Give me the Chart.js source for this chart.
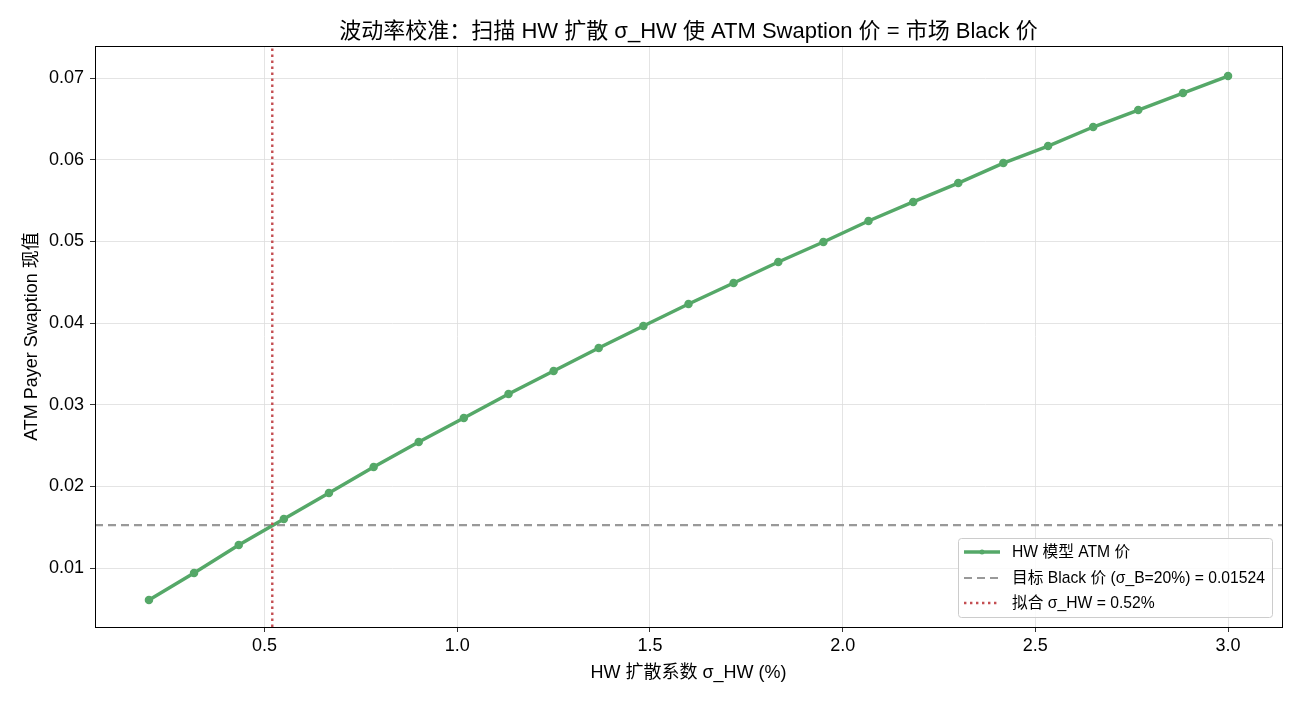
<!DOCTYPE html>
<html lang="zh">
<head>
<meta charset="UTF-8">
<title>波动率校准</title>
<script src="https://cdn.jsdelivr.net/npm/chart.js"></script>
<style>
    html, body { margin: 0; padding: 0; background: #fff; }
    #wrap { width: 1300px; height: 702px; }
</style>
</head>
<body>
<div id="wrap"><canvas id="calib" width="1300" height="702"></canvas></div>
<script>
    const FONT = "'Liberation Sans', Arial, 'Noto Sans CJK SC', sans-serif";

    // sigma_HW grid (%) and model ATM payer swaption price
    const sigmaHW = [0.2, 0.317, 0.433, 0.55, 0.667, 0.783, 0.9, 1.017, 1.133, 1.25,
                     1.367, 1.483, 1.6, 1.717, 1.833, 1.95, 2.067, 2.183, 2.3, 2.417,
                     2.533, 2.65, 2.767, 2.883, 3.0];
    const hwPrice = [0.00608, 0.00939, 0.01282, 0.0160, 0.01918, 0.02237, 0.02543, 0.02837,
                     0.0313, 0.03412, 0.03694, 0.03963, 0.04233, 0.0449, 0.04747, 0.04992,
                     0.05249, 0.05482, 0.05714, 0.05959, 0.06167, 0.06400, 0.06608, 0.06816, 0.07024];
    const targetPrice = 0.01524;
    const fittedSigma = 0.52;
    const xTicks = [0.5, 1.0, 1.5, 2.0, 2.5, 3.0];
    const yTicks = [0.01, 0.02, 0.03, 0.04, 0.05, 0.06, 0.07];
    const xRange = [0.06, 3.14];
    const yRange = [0.002776, 0.07392];

    const labels = ['HW 模型 ATM 价', '目标 Black 价 (σ_B=20%) = 0.01524', '拟合 σ_HW = 0.52%'];

    const frameAndText = {
        id: 'frameAndText',
        afterDraw(chart) {
            const c = chart.ctx, a = chart.chartArea;
            c.save();
            // axes frame
            c.strokeStyle = '#000';
            c.lineWidth = 1;
            c.strokeRect(Math.round(a.left) + 0.5, Math.round(a.top) + 0.5,
                         Math.round(a.right - a.left), Math.round(a.bottom - a.top));
            // title
            c.fillStyle = '#000';
            c.font = '22px ' + FONT;
            c.textAlign = 'center';
            c.textBaseline = 'middle';
            c.fillText('波动率校准：扫描 HW 扩散 σ_HW 使 ATM Swaption 价 = 市场 Black 价', (a.left + a.right) / 2, 32);

            // legend
            const bx = 958, by = 538, bw = 314, bh = 79;
            c.fillStyle = 'rgba(255,255,255,0.85)';
            c.strokeStyle = '#cccccc';
            c.beginPath();
            c.roundRect(bx + 0.5, by + 0.5, bw, bh, 3);
            c.fill();
            c.stroke();
            const rows = [552, 578, 603];
            const ds = chart.data.datasets;
            c.font = '15.7px ' + FONT;
            c.textAlign = 'left';
            rows.forEach((ry, i) => {
                const d = ds[i];
                c.strokeStyle = d.borderColor;
                c.lineWidth = d.borderWidth;
                c.setLineDash(d.borderDash || []);
                c.beginPath();
                c.moveTo(964, ry);
                c.lineTo(1000, ry);
                c.stroke();
                c.setLineDash([]);
                if (i === 0) {
                    c.fillStyle = d.borderColor;
                    c.beginPath();
                    c.arc(982, ry, 2.5, 0, Math.PI * 2);
                    c.fill();
                }
                c.fillStyle = '#000';
                c.fillText(labels[i], 1012, ry + 1);
            });
            c.restore();
        }
    };

    new Chart(document.getElementById('calib'), {
        type: 'line',
        data: {
            datasets: [
                {
                    label: labels[0],
                    data: sigmaHW.map((s, i) => ({ x: s, y: hwPrice[i] })),
                    borderColor: '#55a868',
                    backgroundColor: '#55a868',
                    borderWidth: 3.5,
                    pointRadius: 2.5,
                    pointHoverRadius: 2.5,
                    tension: 0,
                    order: 1
                },
                {
                    label: labels[1],
                    data: [{ x: xRange[0], y: targetPrice }, { x: xRange[1], y: targetPrice }],
                    borderColor: '#999999',
                    borderWidth: 2.2,
                    borderDash: [8, 5],
                    pointRadius: 0,
                    order: 2
                },
                {
                    label: labels[2],
                    data: [{ x: fittedSigma, y: yRange[0] }, { x: fittedSigma, y: yRange[1] }],
                    borderColor: '#c44e52',
                    borderWidth: 2.4,
                    borderDash: [2.4, 3.6],
                    pointRadius: 0,
                    order: 0
                }
            ]
        },
        options: {
            responsive: false,
            animation: false,
            layout: { padding: { left: 21, right: 18, top: 46, bottom: 18 } },
            plugins: {
                legend: { display: false },
                title: { display: false },
                tooltip: { enabled: false }
            },
            scales: {
                x: {
                    type: 'linear',
                    min: xRange[0],
                    max: xRange[1],
                    afterBuildTicks: ax => { ax.ticks = xTicks.map(v => ({ value: v })); },
                    afterFit: ax => { ax.height = 57; },
                    grid: { color: '#dddddd', lineWidth: 0.8, tickColor: '#000', tickLength: 5 },
                    border: { display: true, color: '#000', width: 1 },
                    ticks: {
                        color: '#000',
                        font: { family: FONT, size: 18 },
                        padding: 3,
                        maxRotation: 0,
                        callback: v => v.toFixed(1)
                    },
                    title: {
                        display: true,
                        text: 'HW 扩散系数 σ_HW (%)',
                        color: '#000',
                        font: { family: FONT, size: 18 },
                        padding: { top: 4, bottom: 0 }
                    }
                },
                y: {
                    type: 'linear',
                    min: yRange[0],
                    max: yRange[1],
                    afterBuildTicks: ax => { ax.ticks = yTicks.map(v => ({ value: v })); },
                    afterFit: ax => { ax.width = 74; },
                    grid: { color: '#dddddd', lineWidth: 0.8, tickColor: '#000', tickLength: 5 },
                    border: { display: true, color: '#000', width: 1 },
                    ticks: {
                        color: '#000',
                        font: { family: FONT, size: 18 },
                        padding: 6,
                        callback: v => v.toFixed(2)
                    },
                    title: {
                        display: true,
                        text: 'ATM Payer Swaption 现值',
                        color: '#000',
                        font: { family: FONT, size: 18 },
                        padding: { top: 0, bottom: 0 }
                    }
                }
            }
        },
        plugins: [frameAndText]
    });
</script>
</body>
</html>
